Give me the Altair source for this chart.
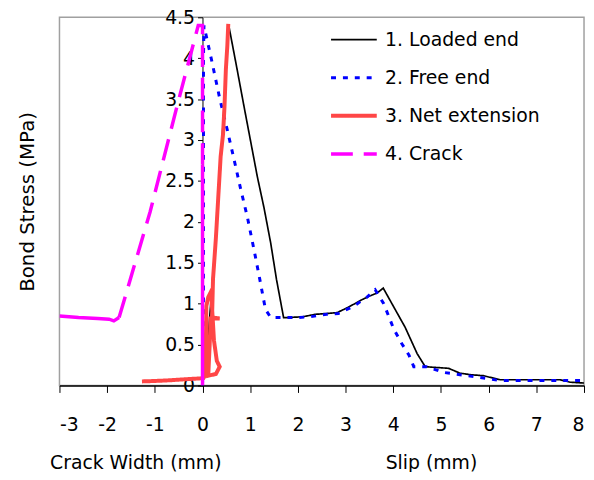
import altair as alt
import pandas as pd

# ---- data ----
series_names = ["1. Loaded end", "2. Free end", "3. Net extension", "4. Crack"]
series_colors = ["#000000", "#0000FF", "#FF4646", "#FF00FF"]

loaded_x = [0.0, 0.12, 0.25, 0.38, 0.47, 0.55, 0.72, 0.88, 1.02, 1.15, 1.29, 1.43, 1.55, 1.70,
            1.78, 2.10, 2.37, 2.60, 2.82, 3.00, 3.13, 3.35, 3.49, 3.66, 3.79, 4.01, 4.25, 4.50,
            4.67, 4.90, 5.16, 5.40, 5.65, 5.89, 6.24, 6.80, 7.50, 7.71, 8.00]
loaded_y = [0.0, 0.6, 1.6, 2.7, 3.6, 4.40, 3.88, 3.38, 2.95, 2.55, 2.17, 1.74, 1.30, 0.83,
            0.83, 0.84, 0.87, 0.88, 0.89, 0.94, 0.98, 1.05, 1.09, 1.13, 1.19, 0.96, 0.71, 0.39,
            0.23, 0.22, 0.21, 0.15, 0.13, 0.12, 0.07, 0.07, 0.07, 0.04, 0.03]

free_x = [0.0, 0.02, 0.02, 0.02, 0.02, 0.03, 0.20, 0.36, 0.52, 0.67, 0.80, 0.94, 1.10, 1.20,
          1.32, 1.43, 1.70, 1.98, 2.26, 2.60, 2.85, 3.17, 3.45, 3.62, 3.80, 4.01, 4.18, 4.33,
          4.43, 4.70, 5.05, 5.30, 5.55, 5.96, 6.24, 7.00, 7.70, 8.00]
free_y = [0.0, 1.0, 2.0, 3.0, 4.0, 4.40, 3.95, 3.51, 3.12, 2.74, 2.40, 2.06, 1.60, 1.30,
          0.93, 0.83, 0.83, 0.83, 0.84, 0.87, 0.88, 0.97, 1.08, 1.17, 1.00, 0.69, 0.51, 0.37,
          0.23, 0.23, 0.16, 0.14, 0.12, 0.085, 0.06, 0.06, 0.06, 0.06]

net_x = [-1.27, -1.00, -0.65, -0.40, -0.10, 0.02, 0.06, 0.07, 0.08, 0.12, 0.18, 0.20, 0.24,
         0.30, 0.36, 0.28, 0.12, 0.15, 0.17, 0.36, 0.20, 0.22, 0.28, 0.33, 0.38, 0.43, 0.46,
         0.49, 0.52, 0.54]
net_y = [0.05, 0.055, 0.065, 0.075, 0.085, 0.09, 0.13, 0.50, 0.97, 1.08, 1.15, 0.95, 0.55,
         0.30, 0.23, 0.14, 0.12, 0.50, 0.82, 0.82, 0.83, 1.30, 1.80, 2.30, 2.80, 3.07, 3.40,
         3.87, 4.15, 4.42]

# crack: long (dashed) segments
crack_x = [-1.75, -1.10, -0.51, -0.09, 0.0, 0.0]
crack_y = [0.83, 2.12, 3.47, 4.40, 4.40, 2.70]
# crack: densely sampled parts (drawn solid)
crack_flat_x = [-3.0, -2.6, -2.2, -1.96, -1.86, -1.75]
crack_flat_y = [0.85, 0.83, 0.82, 0.81, 0.79, 0.83]
crack_stem_x = [0.0, 0.0]
crack_stem_y = [2.70, 0.0]

x_ticks = list(range(-3, 9))
y_ticks = [0, 0.5, 1, 1.5, 2, 2.5, 3, 3.5, 4, 4.5]

title_x = [-1.40, 4.80]
title_text = ["Crack Width (mm)", "Slip (mm)"]

FONT = "DejaVu Sans"

rows = []
for name, xs, ys in zip(series_names,
                        [loaded_x, free_x, net_x, crack_x],
                        [loaded_y, free_y, net_y, crack_y]):
    for i, (xv, yv) in enumerate(zip(xs, ys)):
        rows.append({"series": name, "i": i, "x": xv, "y": yv})
main_df = pd.DataFrame(rows)

solid_rows = []
for seg, xs, ys in [("flat", crack_flat_x, crack_flat_y), ("stem", crack_stem_x, crack_stem_y)]:
    for i, (xv, yv) in enumerate(zip(xs, ys)):
        solid_rows.append({"seg": seg, "i": i, "x": xv, "y": yv})
solid_df = pd.DataFrame(solid_rows)

title_df = pd.DataFrame({"x": title_x, "text": title_text})

xscale = alt.Scale(domain=[-3, 8], nice=False, zero=False)
yscale = alt.Scale(domain=[0, 4.5], nice=False)

x_axis = alt.Axis(values=x_ticks, labelExpr="'' + datum.value", title=None, grid=False,
                  tickSize=7, tickColor="black", domainColor="black", domainWidth=1.3,
                  labelFontSize=19, labelFont=FONT, labelColor="black", labelPadding=23)
y_axis = alt.Axis(values=y_ticks, format="~g", offset=-144.5, grid=False,
                  title="Bond Stress (MPa)", titleX=-176.5, titleBaseline="middle",
                  titleFontSize=20, titleFont=FONT, titleFontWeight="normal",
                  titleColor="black", tickSize=5, tickColor="black", domainColor="black",
                  labelFontSize=19, labelFont=FONT, labelColor="black", labelPadding=3)

legend = alt.Legend(title=None, orient="none", legendX=288, legendY=13,
                    symbolType="M-3.3,0L3.3,0", symbolSize=196, labelFontSize=19,
                    labelFont=FONT, labelColor="black", labelOffset=22, rowPadding=18.5,
                    padding=0, symbolFillColor="transparent")

main = alt.Chart(main_df).mark_line(clip=True, strokeCap="butt").encode(
    x=alt.X("x:Q", scale=xscale, axis=x_axis),
    y=alt.Y("y:Q", scale=yscale, axis=y_axis),
    color=alt.Color("series:N", scale=alt.Scale(domain=series_names, range=series_colors),
                    legend=legend),
    strokeDash=alt.StrokeDash("series:N",
                              scale=alt.Scale(domain=series_names,
                                              range=[[1, 0], [5, 7], [1, 0], [22, 11]]),
                              legend=legend),
    strokeWidth=alt.StrokeWidth("series:N",
                                scale=alt.Scale(type="ordinal", domain=series_names,
                                                range=[1.7, 3, 4, 3.5]),
                                legend=legend),
    order=alt.Order("i:Q"),
)

solid = alt.Chart(solid_df).mark_line(clip=True, color="#FF00FF", strokeWidth=3.5).encode(
    x=alt.X("x:Q", scale=xscale),
    y=alt.Y("y:Q", scale=yscale),
    detail="seg:N",
    order=alt.Order("i:Q"),
)

titles = alt.Chart(title_df).mark_text(font=FONT, fontSize=19, color="black",
                                       align="center", baseline="middle").encode(
    x=alt.X("x:Q", scale=xscale),
    y=alt.value(450),
    text="text:N",
)

chart = alt.layer(main, solid, titles).properties(
    width=530, height=372,
    autosize=alt.AutoSizeParams(type="none"),
    padding={"left": 52, "top": 7, "right": 2, "bottom": 85},
).configure_view(stroke="#A0A0A0", strokeWidth=1.5)

chart.save("out.html", embed_options={"renderer": "svg", "actions": False})
